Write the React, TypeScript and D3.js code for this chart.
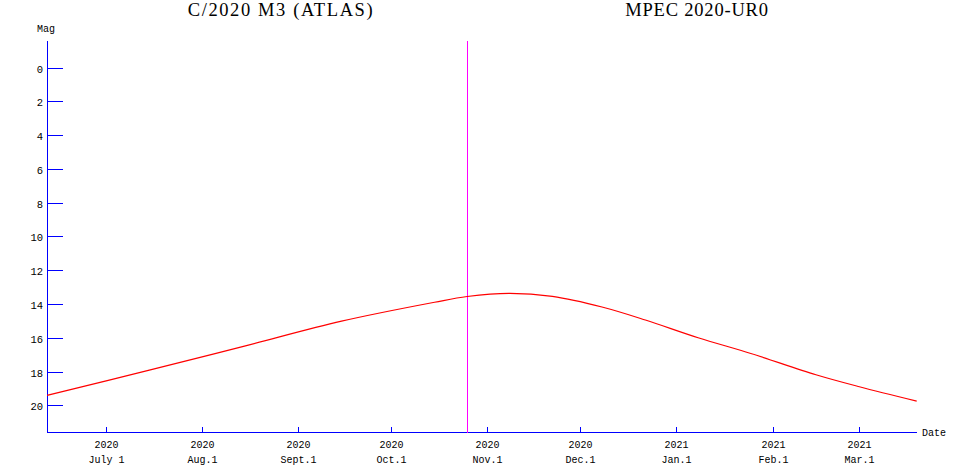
import React, { useEffect, useRef } from "react";
import * as d3 from "d3";

const W = 965;
const H = 472;

const titles = ["C/2020 M3 (ATLAS)", "MPEC 2020-UR0"];

// Magnitude curve (date, magnitude)
const dates = [
  "2020-06-12", "2020-07-15", "2020-08-15", "2020-09-15", "2020-10-15",
  "2020-10-25T12:00", "2020-11-08", "2020-11-22", "2020-12-08", "2020-12-22",
  "2021-01-08", "2021-01-25", "2021-02-15", "2021-03-01", "2021-03-19T12:00",
];
const mags = [
  19.41, 17.92, 16.48, 15.02, 13.90,
  13.56, 13.37, 13.55, 14.18, 14.95,
  16.00, 16.93, 18.19, 18.90, 19.75,
];

const magTicks = [0, 2, 4, 6, 8, 10, 12, 14, 16, 18, 20];
const dateTicks = ["2020-07-01", "2020-08-01", "2020-09-01", "2020-10-01", "2020-11-01", "2020-12-01", "2021-01-01", "2021-02-01", "2021-03-01"];
const yearLabels = ["2020", "2020", "2020", "2020", "2020", "2020", "2021", "2021", "2021"];
const monthLabels = ["July 1", "Aug.1", "Sept.1", "Oct.1", "Nov.1", "Dec.1", "Jan.1", "Feb.1", "Mar.1"];
const todayDate = "2020-10-25T12:00";

const dateRange = ["2020-06-12", "2021-03-19T12:00"];

export default function App() {
  const ref = useRef<SVGSVGElement>(null);

  useEffect(() => {
    const svg = d3.select(ref.current);
    svg.selectAll("*").remove();

    const parse = (s: string) => new Date(s + (s.includes("T") ? ":00Z" : "T00:00:00Z"));
    const x = d3.scaleUtc().domain(dateRange.map(parse)).range([47, 916.7]);
    const y = d3.scaleLinear().domain([0, 20]).range([67.5, 405.3]);

    const axisX = 47.5;
    const axisTop = 41;
    const axisY = 432.5;
    const mono = "'Liberation Mono', 'DejaVu Sans Mono', monospace";

    // titles
    svg.append("text").attr("x", 281).attr("y", 16).attr("text-anchor", "middle")
      .attr("font-family", "'Liberation Serif', serif").attr("font-size", 18.5)
      .attr("letter-spacing", 1.6)
      .attr("fill", "#000").text(titles[0]);
    svg.append("text").attr("x", 697).attr("y", 16).attr("text-anchor", "middle")
      .attr("font-family", "'Liberation Serif', serif").attr("font-size", 18.5)
      .attr("letter-spacing", 0.8)
      .attr("fill", "#000").text(titles[1]);

    // Mag label
    svg.append("text").attr("x", 37).attr("y", 32).attr("font-family", mono)
      .attr("font-size", 10).attr("fill", "#000").text("Mag");

    // y axis
    svg.append("line").attr("x1", axisX).attr("x2", axisX).attr("y1", axisTop).attr("y2", axisY)
      .attr("stroke", "#0000ff").attr("stroke-width", 1).attr("shape-rendering", "crispEdges");
    magTicks.forEach((m) => {
      const yy = Math.round(y(m)) + 0.5;
      svg.append("line").attr("x1", axisX).attr("x2", 63).attr("y1", yy).attr("y2", yy)
        .attr("stroke", "#0000ff").attr("shape-rendering", "crispEdges");
      svg.append("text").attr("x", 43).attr("y", yy + 4).attr("text-anchor", "end")
        .attr("font-family", mono).attr("font-size", 10.5).attr("fill", "#000").text(String(m));
    });

    // x axis
    svg.append("line").attr("x1", axisX).attr("x2", 917).attr("y1", axisY).attr("y2", axisY)
      .attr("stroke", "#0000ff").attr("shape-rendering", "crispEdges");
    dateTicks.forEach((d, i) => {
      const xx = Math.round(x(parse(d))) + 0.5;
      svg.append("line").attr("x1", xx).attr("x2", xx).attr("y1", axisY).attr("y2", axisY - 6)
        .attr("stroke", "#0000ff").attr("shape-rendering", "crispEdges");
      svg.append("text").attr("x", xx).attr("y", 448).attr("text-anchor", "middle")
        .attr("font-family", mono).attr("font-size", 10).attr("fill", "#000").text(yearLabels[i]);
      svg.append("text").attr("x", xx).attr("y", 463).attr("text-anchor", "middle")
        .attr("font-family", mono).attr("font-size", 10).attr("fill", "#000").text(monthLabels[i]);
    });
    svg.append("text").attr("x", 922).attr("y", 436).attr("font-family", mono)
      .attr("font-size", 10).attr("fill", "#000").text("Date");

    // today line
    const tx = Math.round(x(parse(todayDate))) + 0.5;
    svg.append("line").attr("x1", tx).attr("x2", tx).attr("y1", axisTop).attr("y2", axisY)
      .attr("stroke", "#ff00ff").attr("shape-rendering", "crispEdges");

    // curve
    const pts = dates.map((d, i) => [x(parse(d)), y(mags[i])] as [number, number]);
    const line = d3.line().curve(d3.curveCatmullRom.alpha(0.5));
    svg.append("path").attr("d", line(pts) as string).attr("fill", "none")
      .attr("stroke", "#ff0000").attr("stroke-width", 1.2);
  }, []);

  return (
    <svg ref={ref} width={W} height={H}
      style={{ position: "absolute", left: 0, top: 0, background: "#fff" }} />
  );
}
